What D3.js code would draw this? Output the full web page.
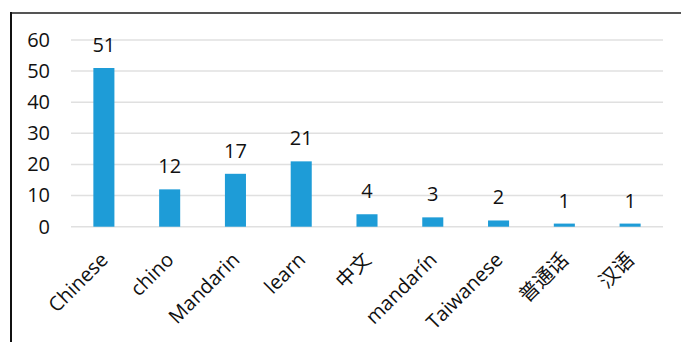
<!DOCTYPE html>
<html>
<head>
<meta charset="utf-8">
<script src="https://cdn.jsdelivr.net/npm/d3@7"></script>
<style>
  html, body { margin: 0; padding: 0; background: #fff; }
  svg { display: block; }
  text { font-family: "Open Sans", "Noto Sans", "Noto Sans CJK SC", sans-serif; fill: #111; }
</style>
</head>
<body>
<svg id="chart" width="681" height="342"></svg>
<script>
// Search terms and how many times each one appears
const categories = ["Chinese", "chino", "Mandarin", "learn", "中文", "mandarín", "Taiwanese", "普通话", "汉语"];
const counts = [51, 12, 17, 21, 4, 3, 2, 1, 1];
const yTicks = [0, 10, 20, 30, 40, 50, 60];

const svg = d3.select("#chart");
const W = 681, H = 342;
const plotLeft = 71, plotRight = 663, plotTop = 40, plotBottom = 226.7;
const fontSize = 20;

// Frame: heavy rule along the top and down the left side
svg.append("line").attr("x1", 10).attr("x2", W).attr("y1", 13).attr("y2", 13)
  .attr("stroke", "#555").attr("stroke-width", 2);
svg.append("line").attr("x1", 11).attr("x2", 11).attr("y1", 12).attr("y2", H)
  .attr("stroke", "#111").attr("stroke-width", 2);

const x = d3.scaleBand().domain(categories).range([plotLeft, plotRight]).paddingInner(0.68).paddingOuter(0.34);
const y = d3.scaleLinear().domain([0, 60]).range([plotBottom, plotTop]);

// Horizontal gridlines
svg.append("g").selectAll("line").data(yTicks).join("line")
  .attr("x1", plotLeft).attr("x2", plotRight)
  .attr("y1", d => y(d)).attr("y2", d => y(d))
  .attr("stroke", "#e0e0e0").attr("stroke-width", 1.5);

// Y axis labels
const yAxis = d3.axisLeft(y).tickValues(yTicks).tickSize(0).tickPadding(0);
const gy = svg.append("g").attr("transform", "translate(50,0)").call(yAxis);
gy.select(".domain").remove();
gy.selectAll("text").attr("font-size", fontSize).attr("font-family", "\"Open Sans\", sans-serif").attr("fill", "#111");

// Bars
svg.append("g").selectAll("rect").data(counts).join("rect")
  .attr("x", (d, i) => x(categories[i]))
  .attr("width", x.bandwidth())
  .attr("y", d => y(d))
  .attr("height", d => y(0) - y(d))
  .attr("fill", "#1e9cd7");

// Value labels above the bars
svg.append("g").selectAll("text").data(counts).join("text")
  .attr("x", (d, i) => x(categories[i]) + x.bandwidth() / 2)
  .attr("y", d => y(d) - 16)
  .attr("text-anchor", "middle")
  .attr("font-size", fontSize)
  .text(d => d);

// Category labels, slanted
svg.append("g").selectAll("text").data(categories).join("text")
  .attr("transform", d => `translate(${x(d) + x.bandwidth() / 2 - 4.5},${plotBottom + 24.5}) rotate(-45)`)
  .attr("text-anchor", "end")
  .attr("dy", "0.7em")
  .attr("font-size", fontSize)
  .text(d => d);
</script>
</body>
</html>
